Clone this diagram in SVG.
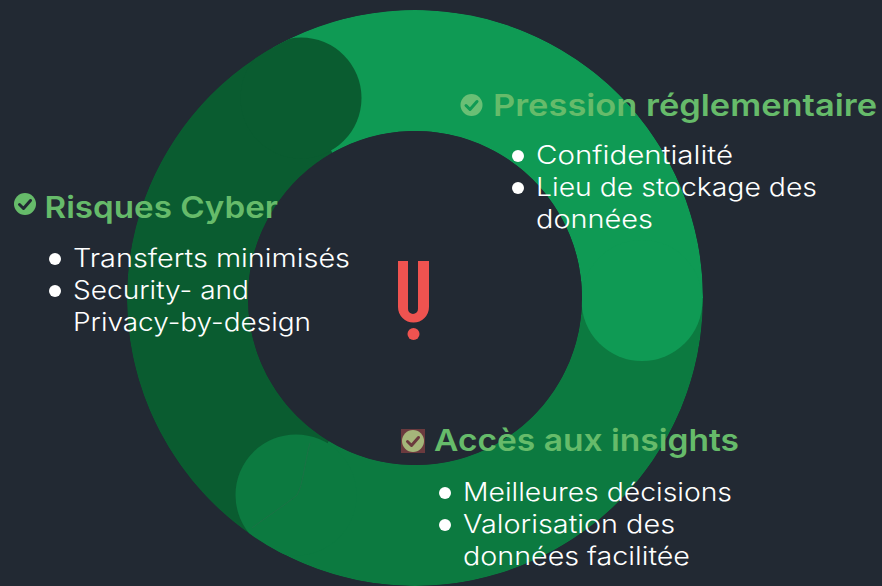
<svg xmlns="http://www.w3.org/2000/svg" width="882" height="586" viewBox="0 0 882 586">
<style>
text{font-family:"Inter","Open Sans","Liberation Sans",sans-serif}
.h{font-size:30px;font-weight:600;fill:#66bb6a}
.b{font-size:25.5px;font-weight:300;fill:#fff}
.d{fill:#fff}
.arc{fill:none;stroke-width:121}
.chk{fill:none;stroke-width:3;stroke-linecap:round;stroke-linejoin:round}
</style>
<defs>
<clipPath id="annulus"><path clip-rule="evenodd" d="M127 298A288 288 0 1 1 703 298A288 288 0 1 1 127 298ZM248 298A167 167 0 1 0 582 298A167 167 0 1 0 248 298Z"/></clipPath>
</defs>
<rect width="882" height="586" fill="#222933"/>
<g id="ring" clip-path="url(#annulus)">
<path class="arc" d="M297.400 492.700A227.500 227.500 0 0 1 302.300 100.300" stroke="#0a5c30"/>
<path class="arc" d="M642.500 298A227.500 227.500 0 0 1 297.400 492.700" stroke="#0c7a40"/>
<circle cx="296" cy="495" r="60.500" fill="#0c7a40"/>
<path d="M310 443C304 465 303 485 297 495C285 505 265 518 252 528" fill="none" stroke="#2a6a4a" stroke-width="0.5"/>
<path class="arc" d="M302.300 100.300A227.500 227.500 0 0 1 642.500 298" stroke="#0f9a54"/>
<circle cx="642" cy="300.500" r="60.500" fill="#0f9a54"/>
<circle cx="301" cy="98" r="60.500" fill="#0a5c30"/>
</g>
<g id="logo" fill="#ef5350">
<path d="M398 261H408V309A5 5 0 0 0 418 309V261H429V307A15.500 15.500 0 0 1 398 307Z"/>
<circle cx="413.500" cy="334" r="6"/>
</g>
<g id="node-pression">
<circle cx="471.500" cy="105" r="11" fill="#6abf75"/>
<path class="chk" d="M466 105.500L470 109.500L477 101.500" stroke="#0f9a54"/>
<text class="h" x="493" y="116" textLength="384" lengthAdjust="spacingAndGlyphs">Pression réglementaire</text>
<circle class="d" cx="518" cy="156" r="6"/>
<circle class="d" cx="518" cy="188" r="6"/>
<text class="b" x="536" y="164" textLength="197" lengthAdjust="spacingAndGlyphs">Confidentialité</text>
<text class="b" x="536" y="196" textLength="281" lengthAdjust="spacingAndGlyphs">Lieu de stockage des</text>
<text class="b" x="536" y="228" textLength="117" lengthAdjust="spacingAndGlyphs">données</text>
</g>
<g id="node-risques">
<circle cx="25" cy="204" r="11" fill="#66bb6a"/>
<path class="chk" d="M19.500 204.500L23.500 208.500L30.500 200.500" stroke="#222933"/>
<text class="h" x="44.500" y="218" textLength="233.500" lengthAdjust="spacingAndGlyphs">Risques Cyber</text>
<circle class="d" cx="55" cy="259" r="6"/>
<circle class="d" cx="55" cy="291" r="6"/>
<text class="b" x="73" y="267" textLength="277" lengthAdjust="spacingAndGlyphs">Transferts minimisés</text>
<text class="b" x="73" y="299" textLength="176" lengthAdjust="spacingAndGlyphs">Security- and</text>
<text class="b" x="73" y="331" textLength="238" lengthAdjust="spacingAndGlyphs">Privacy-by-design</text>
</g>
<g id="node-acces">
<rect x="401" y="429" width="24" height="24" fill="#6b3a3e"/>
<circle cx="413" cy="441" r="11" fill="#a5b67a"/>
<path class="chk" d="M407.500 441.500L411.500 445.500L418.500 437.500" stroke="#6b3a3e"/>
<text class="h" x="434" y="451" textLength="305" lengthAdjust="spacingAndGlyphs">Accès aux insights</text>
<circle class="d" cx="445" cy="493" r="6"/>
<circle class="d" cx="445" cy="525" r="6"/>
<text class="b" x="463" y="501" textLength="269" lengthAdjust="spacingAndGlyphs">Meilleures décisions</text>
<text class="b" x="463" y="533" textLength="212" lengthAdjust="spacingAndGlyphs">Valorisation des</text>
<text class="b" x="463" y="565" textLength="227" lengthAdjust="spacingAndGlyphs">données facilitée</text>
</g>
</svg>
